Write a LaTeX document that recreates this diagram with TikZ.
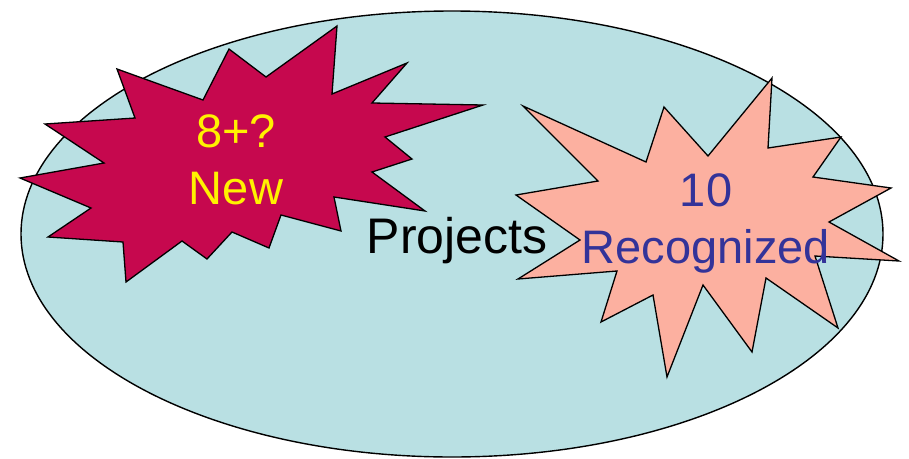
\documentclass[tikz,border=0pt]{standalone}
\usepackage{fontspec}
\setmainfont{Liberation Sans}
\definecolor{fieldblue}{RGB}{185,224,227}
\definecolor{newred}{RGB}{198,8,78}
\definecolor{recsalmon}{RGB}{252,176,160}
\definecolor{recblue}{RGB}{51,51,153}
\tikzset{
    burst/.style={
           draw=black, line width=1.3pt,
           line join=miter,
           },
    field/.style={
           draw=black, line width=1.4pt,
           fill=fieldblue,
           },
    label/.style={
           align=center,
           anchor=base,
           inner sep=0pt,
           font=\fontsize{47}{57}\selectfont,
           },
}
\begin{document}
\begin{tikzpicture}[x=1pt, y=-1pt]
      \useasboundingbox (0,0) rectangle (909,458);
      % the whole set of projects
      \draw[field] (452,234) ellipse [x radius=431, y radius=223];
      % new ones
      \draw[burst, fill=newred] (337,26) -- (332,94) -- (407,63) -- (372,103)
            -- (483,105) -- (385,137) -- (412,159) -- (372,172) -- (425,211)
            -- (334,197) -- (341,231) -- (281,215) -- (269,248) -- (232,232)
            -- (207,259) -- (182,241) -- (126,282) -- (123,242) -- (48,237)
            -- (91,208) -- (20,178) -- (104,163) -- (45,124) -- (135,118)
            -- (117,69) -- (203,100) -- (229,49) -- (266,77) -- cycle;
      % recognized ones
      \draw[burst, fill=recsalmon] (772,78) -- (768,148) -- (841,137) -- (813,177)
            -- (891,188) -- (829,222) -- (899,261) -- (815,256) -- (838,328)
            -- (766,278) -- (752,352) -- (703,285) -- (667,377) -- (653,295)
            -- (601,322) -- (617,271) -- (518,279) -- (580,240) -- (516,195)
            -- (598,181) -- (523,106) -- (646,162) -- (664,107) -- (708,156)
            -- cycle;
      \node[label, text=yellow]   (N) at (236,204) {8+?\\New};
      \node[label, text=recblue]  (R) at (706,263) {10\\Recognized};
      \node[label, font=\fontsize{50}{60}\selectfont] (P) at (457,253) {Projects};
\end{tikzpicture}
\end{document}
